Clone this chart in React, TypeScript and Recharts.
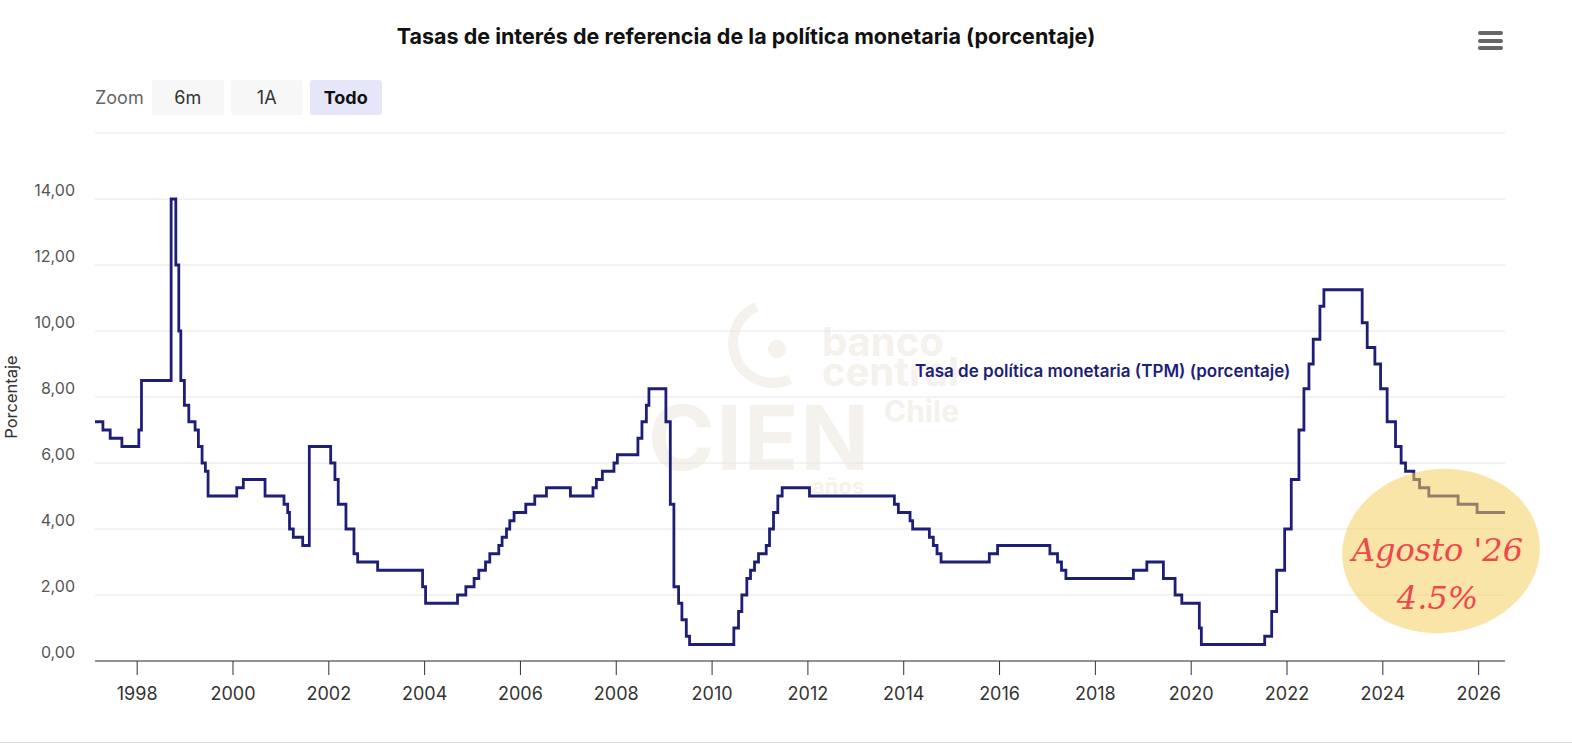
import React from 'react';
import { LineChart, Line, XAxis, YAxis, CartesianGrid } from 'recharts';

// fecha de cada cambio de la TPM (año decimal) y nivel vigente desde esa fecha
const changeYears = [
  1997.12, 1997.285, 1997.437, 1997.681, 1998.035, 1998.09, 1998.709, 1998.807, 1998.869, 1998.911,
  1998.986, 1999.078, 1999.209, 1999.278, 1999.355, 1999.424, 1999.48, 2000.079, 2000.216, 2000.669,
  2001.065, 2001.142, 2001.18, 2001.259, 2001.455, 2001.593, 2002.039, 2002.128, 2002.197, 2002.358,
  2002.525, 2002.602, 2003.019, 2003.957, 2004.02, 2004.687, 2004.86, 2005.033, 2005.131, 2005.271,
  2005.36, 2005.548, 2005.617, 2005.709, 2005.777, 2005.867, 2006.111, 2006.299, 2006.543, 2007.043,
  2007.514, 2007.585, 2007.71, 2007.952, 2008.023, 2008.452, 2008.536, 2008.628, 2008.682, 2009.036,
  2009.128, 2009.203, 2009.301, 2009.37, 2009.462, 2009.53, 2010.454, 2010.552, 2010.621, 2010.725,
  2010.802, 2010.886, 2010.969, 2011.13, 2011.199, 2011.282, 2011.372, 2011.463, 2012.033, 2013.805,
  2013.888, 2014.132, 2014.186, 2014.535, 2014.618, 2014.695, 2014.779, 2015.786, 2015.959, 2017.051,
  2017.21, 2017.293, 2017.385, 2018.794, 2019.074, 2019.42, 2019.664, 2019.804, 2020.17, 2020.212,
  2021.534, 2021.68, 2021.784, 2021.951, 2022.089, 2022.249, 2022.353, 2022.458, 2022.547, 2022.687,
  2022.77, 2023.569, 2023.674, 2023.834, 2023.953, 2024.09, 2024.265, 2024.382, 2024.474, 2024.647,
  2024.766, 2024.96, 2025.571, 2025.967, 2026.55,
];

const tpm = [
  7.25, 7.0, 6.75, 6.5, 7.0, 8.5, 14.0, 12.0, 10.0, 8.5,
  7.75, 7.25, 7.0, 6.5, 6.0, 5.75, 5.0, 5.25, 5.5, 5.0,
  4.75, 4.5, 4.0, 3.75, 3.5, 6.5, 6.0, 5.5, 4.75, 4.0,
  3.25, 3.0, 2.75, 2.25, 1.75, 2.0, 2.25, 2.5, 2.75, 3.0,
  3.25, 3.5, 3.75, 4.0, 4.25, 4.5, 4.75, 5.0, 5.25, 5.0,
  5.25, 5.5, 5.75, 6.0, 6.25, 6.75, 7.25, 7.75, 8.25, 7.25,
  4.75, 2.25, 1.75, 1.25, 0.75, 0.5, 1.0, 1.5, 2.0, 2.5,
  2.75, 3.0, 3.25, 3.5, 4.0, 4.5, 5.0, 5.25, 5.0, 4.75,
  4.5, 4.25, 4.0, 3.75, 3.5, 3.25, 3.0, 3.25, 3.5, 3.25,
  3.0, 2.75, 2.5, 2.75, 3.0, 2.5, 2.0, 1.75, 1.0, 0.5,
  0.75, 1.5, 2.75, 4.0, 5.5, 7.0, 8.25, 9.0, 9.75, 10.75,
  11.25, 10.25, 9.5, 9.0, 8.25, 7.25, 6.5, 6.0, 5.75, 5.5,
  5.25, 5.0, 4.75, 4.5, 4.5,
];

const yearTicks = [1998, 2000, 2002, 2004, 2006, 2008, 2010, 2012, 2014, 2016, 2018, 2020, 2022, 2024, 2026];
const rateTicks = [0, 2, 4, 6, 8, 10, 12, 14, 16];
const zoomButtons = ['6m', '1A', 'Todo'];

const NAVY = '#1e1e78';
const FONT = 'Inter, "Noto Sans", sans-serif';

const data = changeYears.map((year, i) => ({ year, rate: tpm[i] }));

const fmtRate = (v: number) => (v === 16 ? '' : v.toFixed(2).replace('.', ','));

// etiquetas del eje Y un poco por encima de la línea de grilla, como en Highcharts
const RateTick = ({ x, y, payload }: any) => (
  <text x={x} y={y - 9} textAnchor="end" dominantBaseline="central" fontSize={16} fill="#555" fontFamily={FONT}>
    {fmtRate(payload.value)}
  </text>
);

function Watermark() {
  const c = '#f5f1ec';
  return (
    <div style={{ position: 'absolute', left: 0, top: 0, pointerEvents: 'none', fontFamily: FONT, fontWeight: 700, color: c }}>
      <div style={{ position: 'absolute', left: 728, top: 298, width: 70, height: 70, borderRadius: '50%', border: `10px solid ${c}`, borderRightColor: 'transparent', borderTopColor: 'transparent', transform: 'rotate(20deg)' }} />
      <div style={{ position: 'absolute', left: 768, top: 340, width: 18, height: 18, borderRadius: '50%', background: c }} />
      <div style={{ position: 'absolute', left: 822, top: 322, fontSize: 40, lineHeight: '40px' }}>banco</div>
      <div style={{ position: 'absolute', left: 822, top: 352, fontSize: 40, lineHeight: '40px' }}>central</div>
      <div style={{ position: 'absolute', left: 884, top: 395, fontSize: 30, lineHeight: '32px' }}>Chile</div>
      <div style={{ position: 'absolute', left: 648, top: 395, fontSize: 90, lineHeight: '86px', letterSpacing: 2 }}>CIEN</div>
      <div style={{ position: 'absolute', left: 812, top: 474, fontSize: 22, lineHeight: '24px' }}>años</div>
    </div>
  );
}

export default function App() {
  return (
    <div style={{ position: 'absolute', left: 0, top: 0, width: 1572, height: 752, background: '#fff', fontFamily: FONT, overflow: 'hidden' }}>
      <Watermark />

      <div style={{ position: 'absolute', left: 0, width: 1492, top: 23, textAlign: 'center', fontSize: 21.5, fontWeight: 700, color: '#111' }}>
        Tasas de interés de referencia de la política monetaria (porcentaje)
      </div>

      <div style={{ position: 'absolute', left: 1478, top: 31 }}>
        {[0, 1, 2].map((i) => (
          <div key={i} style={{ width: 25, height: 4, borderRadius: 2, background: '#666', marginBottom: 3.5 }} />
        ))}
      </div>

      <div style={{ position: 'absolute', left: 95, top: 80, height: 35, display: 'flex', alignItems: 'center', fontSize: 18 }}>
        <span style={{ color: '#666', marginRight: 8 }}>Zoom</span>
        {zoomButtons.map((b) => (
          <div
            key={b}
            style={{
              width: 72,
              height: 35,
              marginRight: 7,
              borderRadius: 3,
              display: 'flex',
              alignItems: 'center',
              justifyContent: 'center',
              background: b === 'Todo' ? '#e6e6fa' : '#f7f7f7',
              fontWeight: b === 'Todo' ? 700 : 400,
              color: b === 'Todo' ? '#111' : '#333',
            }}
          >
            {b}
          </div>
        ))}
      </div>

      <div style={{ position: 'absolute', left: 0, top: 0 }}>
        <LineChart width={1572} height={752} data={data} margin={{ top: 133, right: 67, bottom: 51, left: 25 }}>
          <CartesianGrid vertical={false} stroke="#e6e6e6" />
          <XAxis
            dataKey="year"
            type="number"
            domain={[1997.12, 2026.55]}
            ticks={yearTicks}
            allowDataOverflow
            height={40}
            axisLine={{ stroke: '#333' }}
            tickLine={{ stroke: '#333' }}
            tickSize={14}
            tickMargin={12}
            tick={{ fontSize: 18, fill: '#333', fontFamily: FONT }}
          />
          <YAxis
            type="number"
            domain={[0, 16]}
            ticks={rateTicks}
            width={70}
            axisLine={false}
            tickLine={false}
            tickSize={0}
            tickMargin={20}
            tick={<RateTick />}
          />
          <Line type="stepAfter" dataKey="rate" stroke={NAVY} strokeWidth={2.8} dot={false} isAnimationActive={false} />
        </LineChart>
      </div>

      <div style={{ position: 'absolute', left: 1, top: 397, transform: 'translate(0, -50%) rotate(-90deg)', transformOrigin: 'center', width: 20, display: 'flex', justifyContent: 'center' }}>
        <span style={{ whiteSpace: 'nowrap', fontSize: 16.5, color: '#333' }}>Porcentaje</span>
      </div>

      <div style={{ position: 'absolute', left: 915, top: 361, fontSize: 17, fontWeight: 600, color: NAVY, whiteSpace: 'nowrap' }}>
        Tasa de política monetaria (TPM) (porcentaje)
      </div>

      <div style={{ position: 'absolute', left: 1342, top: 469, width: 198, height: 164, borderRadius: '50%', background: 'rgba(244, 208, 96, 0.55)', transform: 'rotate(-6deg)' }} />
      <div style={{ position: 'absolute', left: 1345, top: 526, width: 185, textAlign: 'center', fontFamily: '"DejaVu Serif", serif', fontStyle: 'italic', fontSize: 32, lineHeight: '48px', color: '#f0474d' }}>
        Agosto '26
        <br />
        4.5%
      </div>

      <div style={{ position: 'absolute', left: 0, top: 742, width: 1572, height: 1, background: '#dcdcdc' }} />
    </div>
  );
}
